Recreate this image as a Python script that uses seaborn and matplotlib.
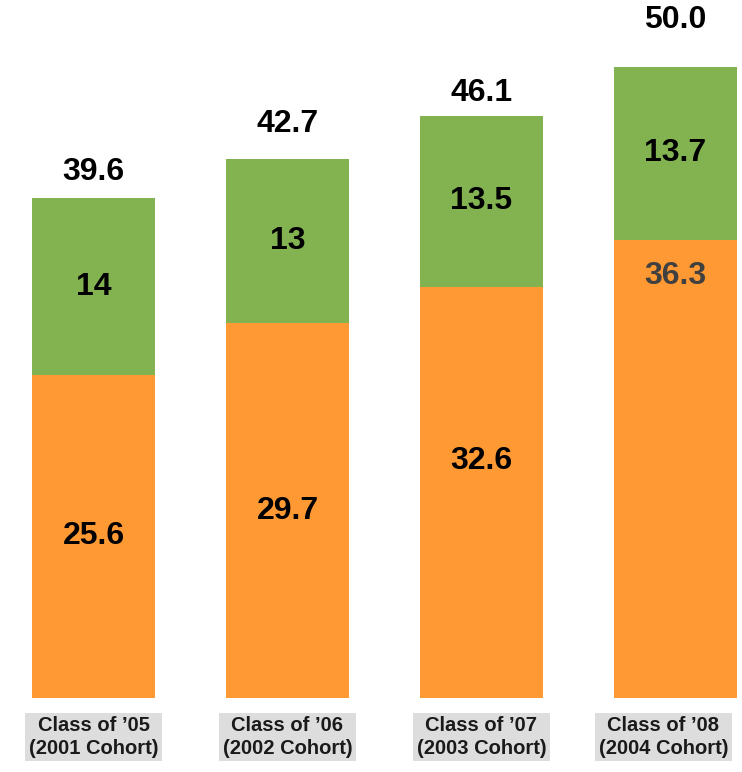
import pandas as pd
import seaborn as sns
import matplotlib.pyplot as plt
import matplotlib.transforms as mtransforms

# data
classes = ["Class of \u201905\n(2001 Cohort)", "Class of \u201906\n(2002 Cohort)",
           "Class of \u201907\n(2003 Cohort)", "Class of \u201908\n(2004 Cohort)"]
lower = [25.6, 29.7, 32.6, 36.3]
upper = [14, 13, 13.5, 13.7]
upper_labels = ["14", "13", "13.5", "13.7"]
totals = ["39.6", "42.7", "46.1", "50.0"]

df = pd.DataFrame({"cls": classes, "lower": lower, "upper": upper})
df["total"] = df["lower"] + df["upper"]

sns.set_style("white")
plt.rcParams["font.family"] = ["Liberation Sans", "DejaVu Sans"]

fig = plt.figure(figsize=(7.42, 7.72), dpi=100)
ax = fig.add_axes([0, 1 - 698 / 772, 1, 698 / 772])

# green = total height, orange overlaid from zero
sns.barplot(data=df, x="cls", y="total", color="#82B350", saturation=1, width=0.634,
            linewidth=0, ax=ax)
sns.barplot(data=df, x="cls", y="lower", color="#FF9933", saturation=1, width=0.634,
            linewidth=0, ax=ax)

ax.set_xlim(-0.482, 3.343)
ax.set_ylim(0, 55.3)
ax.set_xlabel("")
ax.set_ylabel("")
ax.set_yticks([])
sns.despine(ax=ax, left=True, bottom=True, top=True, right=True)

# label placement tweaks (positions only)
lower_pos = [0.5, 0.5, 0.575, 0.92]
total_off = [2.1, 2.8, 1.8, 3.7]
lower_col = ["black", "black", "black", "#404040"]

for i in range(len(classes)):
    ax.text(i, lower[i] * lower_pos[i], f"{lower[i]:.1f}", ha="center", va="center",
            fontsize=23, fontweight="bold", color=lower_col[i])
    ax.text(i, lower[i] + upper[i] / 2, upper_labels[i], ha="center", va="center",
            fontsize=23, fontweight="bold", color="black")
    ax.text(i, lower[i] + upper[i] + total_off[i], totals[i], ha="center", va="center",
            fontsize=23, fontweight="bold", color="black")

ax.tick_params(axis="x", length=0, pad=13)
ax.set_xticks(range(len(classes)))
ax.set_xticklabels(classes, fontsize=14.5, fontweight="bold", color="#1a1a1a", linespacing=1.25)
labs = ax.get_xticklabels()
for lab in labs:
    lab.set_bbox(dict(facecolor="#DDDDDD", edgecolor="none", pad=2.5))
# last label is pushed left to stay inside the figure
labs[-1].set_transform(labs[-1].get_transform() +
                       mtransforms.ScaledTranslation(-12 / 100, 0, fig.dpi_scale_trans))

fig.savefig("out.png", dpi=100)
